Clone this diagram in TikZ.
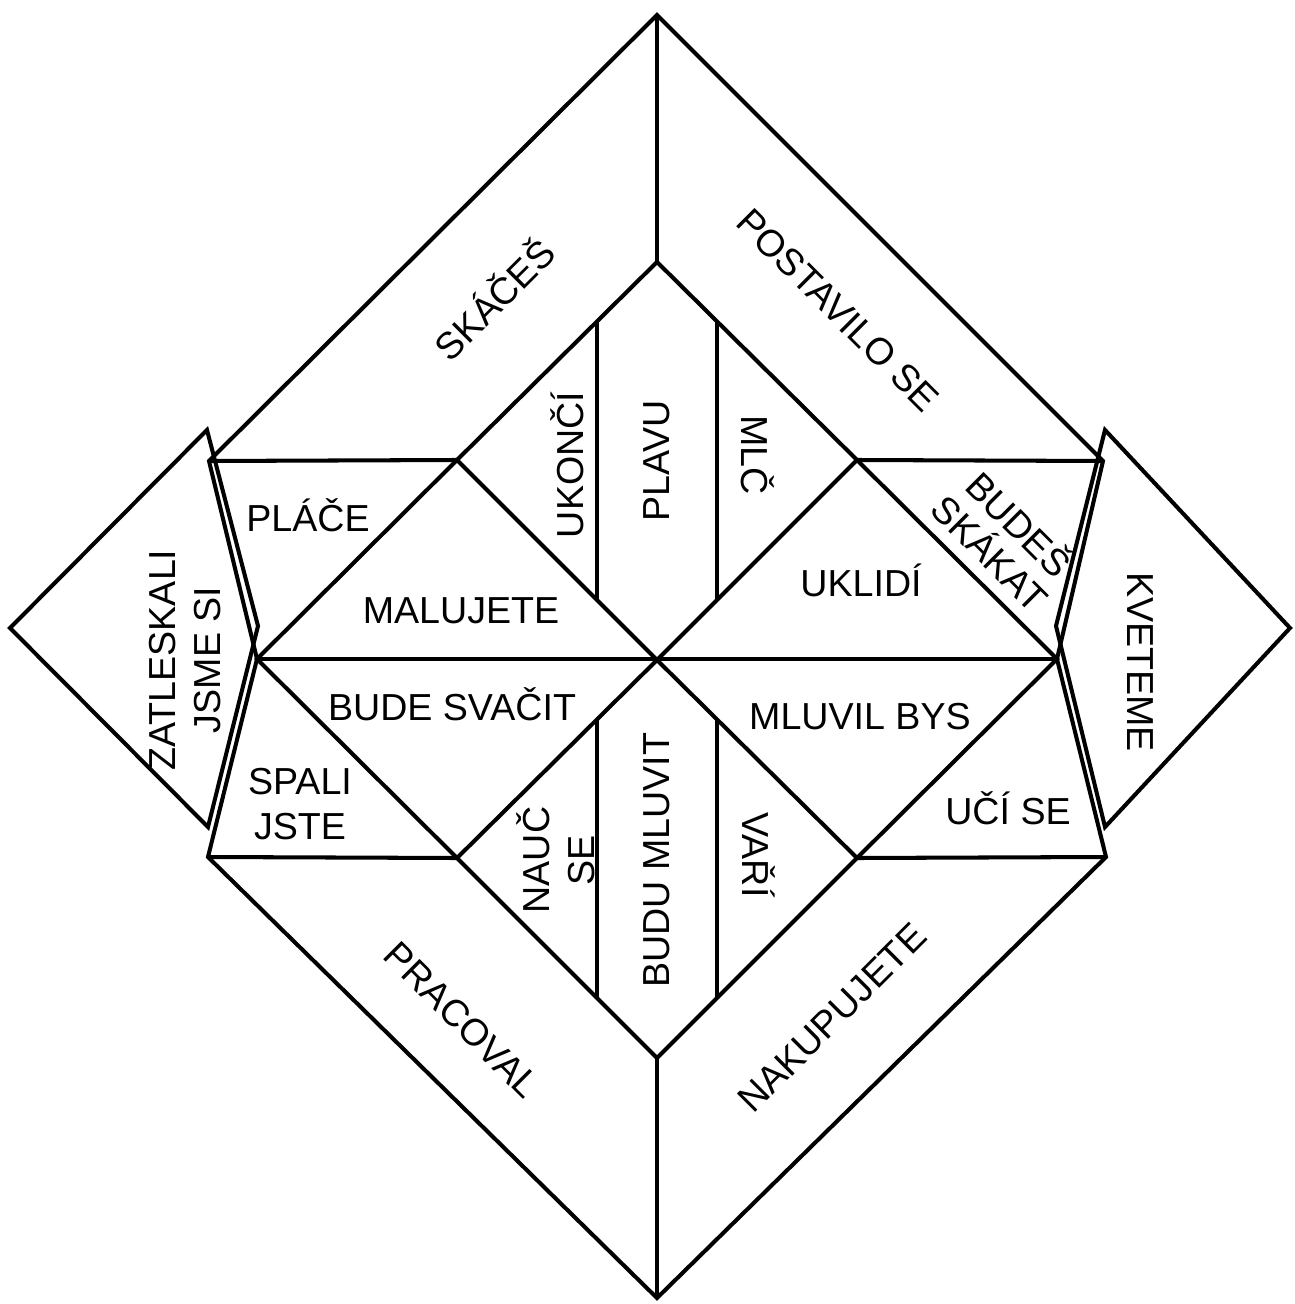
\documentclass[tikz,border=0pt]{standalone}
\usepackage{fontspec}
\setmainfont{Liberation Sans}
\usepackage{tikz}
\usetikzlibrary{calc}

\begin{document}
\begin{tikzpicture}[
    x=0.1mm, y=-0.1mm,
    every node/.style={font=\fontsize{10.7}{12.8}\selectfont},
    fold/.style={line width=1.15pt, line join=miter},
    word/.style={align=center, inner sep=0pt}
]
\useasboundingbox (0,0) rectangle (1294,1304);

% corners of the folded square
\coordinate (top) at (657,15);
\coordinate (bot) at (657,1298);
\coordinate (tl) at (209,461);
\coordinate (tr) at (1103,461);
\coordinate (bl) at (208,857);
\coordinate (br) at (1106,857);
\coordinate (ml) at (257,659);
\coordinate (mr) at (1057,659);
\coordinate (c) at (657,660);
\coordinate (it) at (657,262);
\coordinate (ib) at (657,1058);
\coordinate (ul) at (457,460);
\coordinate (ur) at (857,460);
\coordinate (ll) at (457,858);
\coordinate (lr) at (857,858);

% side flaps
\coordinate (lf1) at (207,430);
\coordinate (lf2) at (10,628);
\coordinate (lf3) at (208,827);
\coordinate (lf4) at (258,626);
\coordinate (rf1) at (1105,430);
\coordinate (rf2) at (1290,628);
\coordinate (rf3) at (1105,827);
\coordinate (rf4) at (1056,626);

\draw[fold] (lf1) -- (lf2) -- (lf3) -- (lf4) -- cycle;
\draw[fold] (rf1) -- (rf2) -- (rf3) -- (rf4) -- cycle;

% outer square
\draw[fold] (tl) -- (top) -- (tr) -- (mr) -- (br) -- (bot) -- (bl) -- (ml) -- cycle;
\draw[fold] (top) -- (it);
\draw[fold] (ib) -- (bot);

% horizontal folds
\draw[fold] (tl) -- (ul);
\draw[fold] (ur) -- (tr);
\draw[fold] (bl) -- (ll);
\draw[fold] (lr) -- (br);
\draw[fold] (ml) -- (mr);

% inner diamonds
\draw[fold] (ul) -- (it) -- (ur);
\draw[fold] (ll) -- (ib) -- (lr);
\draw[fold] (ul) -- (c) -- (ur);
\draw[fold] (ll) -- (c) -- (lr);
\draw[fold] (ul) -- (ml) -- (ll);
\draw[fold] (ur) -- (mr) -- (lr);

% strips
\coordinate (s1) at (597,321);
\coordinate (s2) at (597,600);
\coordinate (s3) at (717,321);
\coordinate (s4) at (717,600);
\coordinate (s5) at (597,720);
\coordinate (s6) at (597,999);
\coordinate (s7) at (717,720);
\coordinate (s8) at (717,999);
\draw[fold] (s1) -- (s2);
\draw[fold] (s3) -- (s4);
\draw[fold] (s5) -- (s6);
\draw[fold] (s7) -- (s8);

% texts
\node[word, rotate=45] (skaces) at (493,298) {SKÁČEŠ};
\node[word, rotate=-45] (postavilo) at (838,310) {POSTAVILO SE};
\node[word, rotate=90] (ukonci) at (567,465) {UKONČÍ};
\node[word, rotate=90] (plavu) at (657,461) {PLAVU};
\node[word, rotate=-90] (mlc) at (758,455) {MLČ};
\node[word] (place) at (308,515) {PLÁČE};
\node[word] (malujete) at (461,611) {MALUJETE};
\node[word] (uklidi) at (861,580) {UKLIDÍ};
\node[word, rotate=-45, font=\fontsize{10.7}{11.6}\selectfont] (budes) at (1006,537) {BUDEŠ\\SKÁKAT};
\node[word, rotate=90] (zatleskali) at (185,660) {ZATLESKALI\\JSME SI};
\node[word, rotate=-90] (kveteme) at (1140,662) {KVETEME};
\node[word] (svacit) at (452,704) {BUDE SVAČIT};
\node[word] (mluvil) at (860,717) {MLUVIL BYS};
\node[word] (spali) at (300,804) {SPALI\\JSTE};
\node[word] (uci) at (1008,808) {UČÍ SE};
\node[word, rotate=90] (nauc) at (556,860) {NAUČ\\SE};
\node[word, rotate=90] (budu) at (657,860) {BUDU MLUVIT};
\node[word, rotate=-90] (vari) at (759,855) {VAŘÍ};
\node[word, rotate=-45] (pracoval) at (462,1020) {PRACOVAL};
\node[word, rotate=45] (nakupujete) at (832,1018) {NAKUPUJETE};

\end{tikzpicture}
\end{document}
